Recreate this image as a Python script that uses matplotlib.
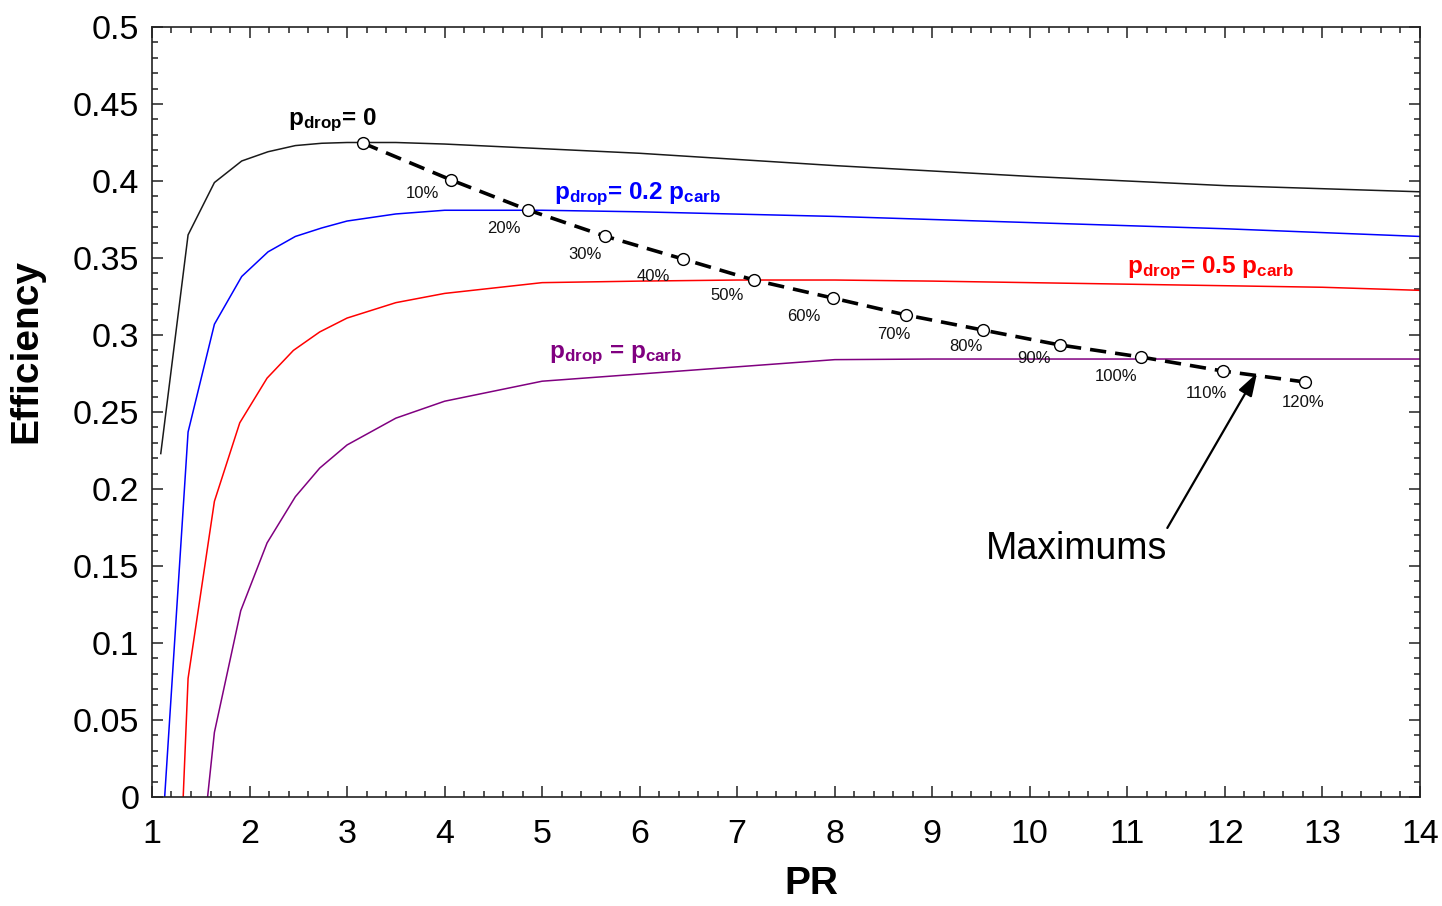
import matplotlib
matplotlib.use("Agg")
import matplotlib.pyplot as plt
from matplotlib.ticker import MultipleLocator, FuncFormatter

plt.rcParams['font.family'] = ['Liberation Sans', 'DejaVu Sans']
plt.rcParams['mathtext.fontset'] = 'custom'
plt.rcParams['mathtext.rm'] = 'Liberation Sans'
plt.rcParams['mathtext.bf'] = 'Liberation Sans:bold'
plt.rcParams['mathtext.it'] = 'Liberation Sans:italic'

# ---- data ----
pr_p0 = [1.09, 1.37, 1.64, 1.92, 2.19, 2.47, 2.74, 3.0, 3.5, 4.0, 5.0, 6.0, 7.0, 8.0, 9.0, 10.0, 11.0, 12.0, 13.0, 14.0]
eff_p0 = [0.223, 0.365, 0.399, 0.413, 0.419, 0.423, 0.4245, 0.425, 0.425, 0.424, 0.421, 0.418, 0.414, 0.410, 0.4065, 0.403, 0.400, 0.397, 0.395, 0.393]

pr_p02 = [1.13, 1.37, 1.64, 1.92, 2.19, 2.47, 2.74, 3.0, 3.5, 4.0, 5.0, 6.0, 7.0, 8.0, 9.0, 10.0, 11.0, 12.0, 13.0, 14.0]
eff_p02 = [0.0, 0.237, 0.307, 0.338, 0.354, 0.364, 0.3695, 0.374, 0.3786, 0.381, 0.381, 0.380, 0.3785, 0.377, 0.375, 0.373, 0.371, 0.369, 0.3665, 0.364]

pr_p05 = [1.32, 1.37, 1.64, 1.90, 2.18, 2.45, 2.72, 3.0, 3.5, 4.0, 5.0, 6.0, 7.0, 8.0, 9.0, 10.0, 11.0, 12.0, 13.0, 14.0]
eff_p05 = [0.0, 0.077, 0.192, 0.243, 0.272, 0.290, 0.302, 0.311, 0.321, 0.327, 0.334, 0.335, 0.3357, 0.3357, 0.335, 0.334, 0.333, 0.332, 0.331, 0.329]

pr_p1 = [1.57, 1.64, 1.91, 2.18, 2.47, 2.72, 3.0, 3.5, 4.0, 5.0, 8.0, 9.0, 10.0, 11.0, 12.0, 13.0, 14.0]
eff_p1 = [0.0, 0.042, 0.121, 0.165, 0.195, 0.2136, 0.2286, 0.246, 0.257, 0.270, 0.284, 0.2844, 0.2844, 0.2844, 0.2844, 0.2844, 0.2844]

max_pr = [3.16, 4.07, 4.855, 5.64, 6.44, 7.17, 7.98, 8.73, 9.52, 10.31, 11.14, 11.98, 12.82]
max_eff = [0.4247, 0.4006, 0.3812, 0.3643, 0.3494, 0.3357, 0.324, 0.313, 0.3032, 0.2935, 0.2857, 0.2766, 0.2695]
max_labels = ['', '10%', '20%', '30%', '40%', '50%', '60%', '70%', '80%', '90%', '100%', '110%', '120%']

x_ticks = list(range(1, 15))
y_ticks = [0, 0.05, 0.1, 0.15, 0.2, 0.25, 0.3, 0.35, 0.4, 0.45, 0.5]

# ---- figure ----
fig = plt.figure(figsize=(14.42, 9.06), dpi=100)
ax = fig.add_axes([0.1054, 0.1203, 0.8793, 0.8499])

ax.plot(pr_p0, eff_p0, color='#1a1a1a', lw=1.1)
ax.plot(pr_p02, eff_p02, color='#0000ff', lw=1.1)
ax.plot(pr_p05, eff_p05, color='#ff0000', lw=1.1)
ax.plot(pr_p1, eff_p1, color='#800080', lw=1.1)

ax.plot(max_pr, max_eff, color='black', lw=2.6, dashes=(4.5, 2.5),
        marker='o', ms=8.5, mfc='white', mec='black', mew=1.0, zorder=5)

offsets = [(0, 0), (-21, -10), (-17, -13), (-14, -13), (-21, -13), (-19, -11),
           (-21, -13), (-9, -14), (-12, -12), (-19, -10), (-18, -14), (-12, -16), (-1, -15)]
for xv, yv, lab, off in zip(max_pr, max_eff, max_labels, offsets):
    if lab:
        ax.annotate(lab, (xv, yv), xytext=off, textcoords='offset points',
                    ha='center', va='center', fontsize=12, color='#111111')

# curve labels
lab_fs = 17.5
ax.text(2.85, 0.4396, r'$\mathbf{p_{drop}}$= 0', fontsize=lab_fs, fontweight='bold',
        color='black', ha='center', va='center')
ax.text(5.98, 0.3916, r'$\mathbf{p_{drop}}$= 0.2 $\mathbf{p_{carb}}$', fontsize=lab_fs,
        fontweight='bold', color='#0000ff', ha='center', va='center')
ax.text(11.85, 0.3435, r'$\mathbf{p_{drop}}$= 0.5 $\mathbf{p_{carb}}$', fontsize=lab_fs,
        fontweight='bold', color='#ff0000', ha='center', va='center')
ax.text(5.75, 0.287, r'$\mathbf{p_{drop}}$ = $\mathbf{p_{carb}}$', fontsize=lab_fs,
        fontweight='bold', color='#800080', ha='center', va='center')

ax.annotate('', xy=(12.33, 0.2753), xytext=(11.41, 0.1747),
            arrowprops=dict(arrowstyle='-|>,head_length=1.4,head_width=0.45',
                            color='black', lw=1.6, shrinkA=0, shrinkB=0))
ax.text(10.48, 0.161, 'Maximums', fontsize=27, ha='center', va='center')

ax.set_xlim(1, 14)
ax.set_ylim(0, 0.5)
ax.set_xticks(x_ticks)
ax.set_yticks(y_ticks)
ax.yaxis.set_major_formatter(FuncFormatter(lambda v, p: f'{v:g}'))
ax.xaxis.set_minor_locator(MultipleLocator(0.2))
ax.yaxis.set_minor_locator(MultipleLocator(0.01))
ax.tick_params(which='both', direction='in', top=True, right=True, width=1.1,
               color='#222222')
ax.tick_params(which='major', length=8, labelsize=24.5)
ax.tick_params(axis='x', which='major', pad=16)
ax.tick_params(axis='y', which='major', pad=9)
ax.tick_params(which='minor', length=4)
for s in ax.spines.values():
    s.set_linewidth(1.2)
    s.set_color('#222222')

ax.set_xlabel('PR', fontsize=28, fontweight='bold')
ax.set_ylabel('Efficiency', fontsize=28, fontweight='bold')
ax.xaxis.set_label_coords(0.52, -0.09)
ax.yaxis.set_label_coords(-0.085, 0.579)

fig.savefig('out.png', dpi=100)
